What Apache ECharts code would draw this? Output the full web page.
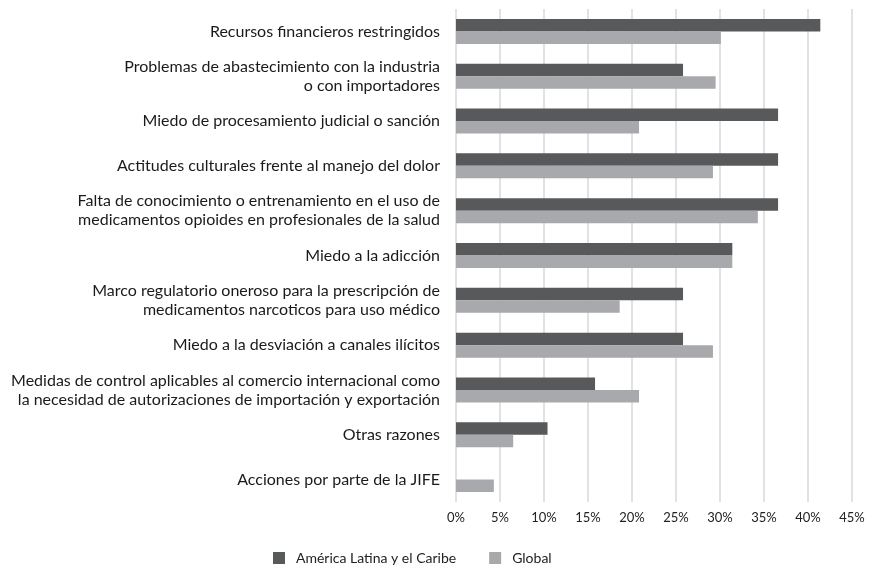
<!DOCTYPE html>
<html>
<head>
<meta charset="utf-8">
<script src="https://cdn.jsdelivr.net/npm/echarts@6/dist/echarts.min.js"></script>
<style>
  html, body { margin: 0; padding: 0; background: #fff; }
  #chart { width: 877px; height: 569px; }
</style>
</head>
<body>
<div id="chart"></div>
<script>
var categories = [
  'Recursos financieros restringidos',
  'Problemas de abastecimiento con la industria\no con importadores',
  'Miedo de procesamiento judicial o sanción',
  'Actitudes culturales frente al manejo del dolor',
  'Falta de conocimiento o entrenamiento en el uso de\nmedicamentos opioides en profesionales de la salud',
  'Miedo a la adicción',
  'Marco regulatorio oneroso para la prescripción de\nmedicamentos narcoticos para uso médico',
  'Miedo a la desviación a canales ilícitos',
  'Medidas de control aplicables al comercio internacional como\nla necesidad de autorizaciones de importación y exportación',
  'Otras razones',
  'Acciones por parte de la JIFE'
];
var latamValues = [41.4, 25.8, 36.6, 36.6, 36.6, 31.4, 25.8, 25.8, 15.8, 10.4, 0];
var globalValues = [30.1, 29.5, 20.8, 29.2, 34.3, 31.4, 18.6, 29.2, 20.8, 6.5, 4.3];
var seriesNames = ['América Latina y el Caribe', 'Global'];

var chart = echarts.init(document.getElementById('chart'));
var font = 'Lato, "Open Sans", sans-serif';
var option = {
  animation: false,
  textStyle: { fontFamily: font },
  grid: { left: 456, right: 25, top: 9, bottom: 67 },
  legend: {
    bottom: 4,
    left: 273,
    padding: 0,
    itemWidth: 12,
    itemHeight: 12,
    itemGap: 33,
    icon: 'rect',
    textStyle: { fontSize: 14, color: '#222', fontFamily: font, padding: [0, 0, 0, 6] },
    data: seriesNames
  },
  xAxis: {
    type: 'value',
    min: 0,
    max: 45,
    interval: 5,
    axisLine: { show: false },
    axisTick: { show: false },
    axisLabel: {
      formatter: '{value}%',
      fontSize: 13,
      color: '#222',
      margin: 9
    },
    splitLine: { lineStyle: { color: '#d9d9d9', width: 1.5 } }
  },
  yAxis: {
    type: 'category',
    inverse: true,
    data: categories,
    axisLine: { show: false },
    axisTick: { show: false },
    axisLabel: {
      fontSize: 16,
      color: '#1a1a1a',
      margin: 16,
      lineHeight: 19,
      align: 'right'
    }
  },
  series: [
    {
      name: seriesNames[0],
      type: 'bar',
      data: latamValues,
      barWidth: 12.5,
      barGap: '0%',
      itemStyle: { color: '#58595b' }
    },
    {
      name: seriesNames[1],
      type: 'bar',
      data: globalValues,
      barWidth: 12.5,
      barGap: '0%',
      itemStyle: { color: '#a7a9ac' }
    }
  ]
};
chart.setOption(option);
</script>
</body>
</html>
